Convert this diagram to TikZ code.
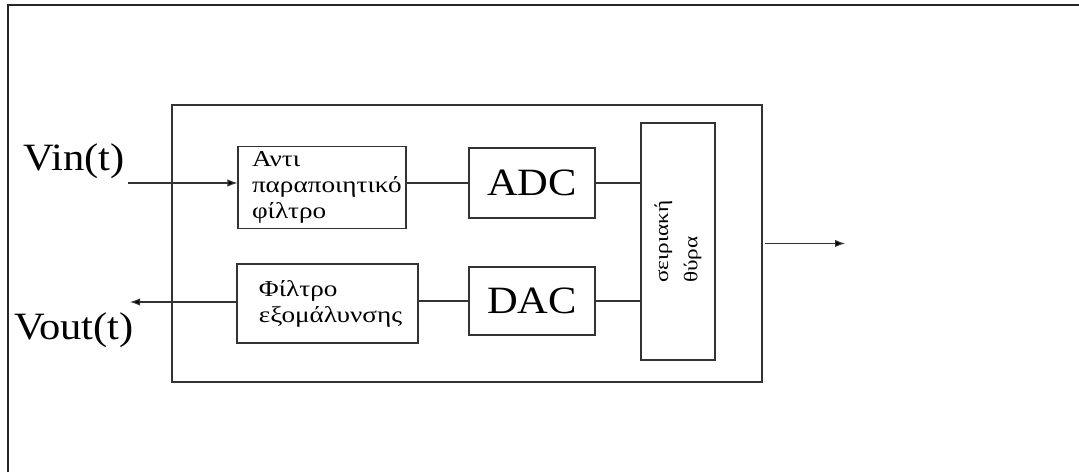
\documentclass[tikz,border=0pt]{standalone}
\usepackage{fontspec}
\setmainfont{Liberation Serif}
\newfontfamily\wideserif[FakeStretch=1.2]{Liberation Serif}
\newfontfamily\bigserif[FakeStretch=1.1]{Liberation Serif}
\usetikzlibrary{arrows.meta}
\tikzset{font={\wideserif\fontsize{17pt}{19.5pt}\selectfont}}

\begin{document}
\begin{tikzpicture}[>={Latex[length=7.5pt,width=5.5pt]},line width=0.8pt,
                    block/.style={rectangle,draw=black!80,inner sep=0pt},
                    text block/.style={block,align=left,inner xsep=#1},
                    big text/.style={font={\bigserif\fontsize{29pt}{32pt}\selectfont}}]

  \useasboundingbox (0pt,0pt) rectangle (809.25pt,-354pt);
  \draw[line width=1.5pt,black!85] (6pt,-354pt) -- (6pt,-3.75pt) -- (809.25pt,-3.75pt);

  \node[block,minimum width=442.5pt,minimum height=207.75pt] (board) at (350.25pt,-182.6pt) {};
  \node[block,big text,minimum width=94.5pt,minimum height=52.5pt] (adc) at (399pt,-137.25pt) {ADC};
  \node[block,big text,minimum width=94.5pt,minimum height=51pt,below of=adc,node distance=88.5pt] (dac) {DAC};
  \node[text block=10.5pt,text width=105pt,minimum height=61.5pt] (aaf) at (241.5pt,-140.6pt) {Αντι\\παραποιητικό\\φίλτρο};
  \node[text block=16.5pt,text width=102.75pt,minimum height=59.25pt] (sf) at (245.6pt,-227.6pt) {Φίλτρο\\εξομάλυνσης};
  \node[block,minimum width=55.5pt,minimum height=177.75pt] (serial) at (508.5pt,-181.1pt) {};
  \node[rotate=90,align=left,font={\wideserif\fontsize{14.5pt}{22pt}\selectfont}] (serialtext) at (serial.center) {σειριακή\\θύρα};

  \node[big text] (vin) at (55.5pt,-120.75pt) {Vin(t)};
  \node[big text] (vout) at (55.5pt,-247.5pt) {Vout(t)};
  \coordinate (in) at (96pt,-137.25pt);
  \coordinate (out) at (97.5pt,-226.5pt);
  \coordinate (port) at (633.75pt,-182.6pt);

  \path[draw=black!80]
    (in) edge [->] (in -| aaf.west)
    (aaf.east |- adc.west) edge (adc.west)
    (adc.east) edge (adc.east -| serial.west)
    (dac.east) edge (dac.east -| serial.west)
    (dac.west) edge (dac.west -| sf.east)
    (sf.west |- out) edge [->] (out)
    (board.east) edge [->,shorten <=2pt] (port);
\end{tikzpicture}
\end{document}
